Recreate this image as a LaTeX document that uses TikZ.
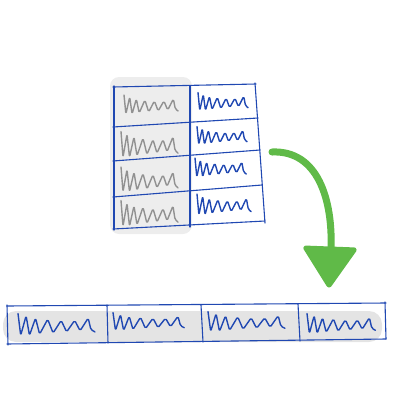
\documentclass[tikz,border=0pt]{standalone}
\usetikzlibrary{calc}
\definecolor{penblue}{RGB}{32,72,178}
\definecolor{pengray}{RGB}{145,145,145}
\definecolor{bggray}{RGB}{237,237,237}
\definecolor{stripgray}{RGB}{228,228,228}
\definecolor{arrowgreen}{RGB}{96,186,72}
\tikzset{
  grid line/.style={draw=penblue, line width=1.1pt, line cap=round, line join=round},
  scrib/.pic={
    \draw[line width=1.4pt, rounded corners=1.6pt, line cap=round, line join=round]
      (0,-10) -- (2,9) -- (6,-8) -- (8.5,9) -- (13,-6) -- (16,8) -- (22,-5) -- (26,7)
      -- (32,-4) -- (36,6) -- (42,-4) -- (46,5) -- (52,-6) -- (54,4) -- (57,6);
  },
}
\begin{document}
\begin{tikzpicture}[x=1pt,y=-1pt]
\useasboundingbox (0,0) rectangle (400,400);
% backgrounds
\fill[bggray, rounded corners=9pt] (110,77) rectangle (192,234);
\fill[stripgray, rounded corners=13pt] (3,311) rectangle (382,342);
% top table
\draw[grid line] (113,87) -- (256,84);
\draw[grid line] (113,127) -- (258,118);
\draw[grid line] (113,161) -- (260,150);
\draw[grid line] (113,197) -- (262,185);
\draw[grid line] (113,229) -- (265,221);
\draw[grid line] (114,86) -- (114,230);
\draw[grid line] (190,86) -- (190,227);
\draw[grid line] (255,83) -- (265,223);
% top table scribbles
\pic[pengray, xscale=0.95, yscale=1.0] at (124,105) {scrib};
\pic[pengray, xscale=1.0, yscale=1.35] at (121,145) {scrib};
\pic[pengray, xscale=1.0, yscale=1.3] at (121,180) {scrib};
\pic[pengray, xscale=1.0, yscale=1.35] at (121,214) {scrib};
\pic[penblue, xscale=0.88, yscale=0.95] at (198,102) {scrib};
\pic[penblue, xscale=0.88, yscale=0.95] at (197,136) {scrib};
\pic[penblue, xscale=0.9, yscale=1.0] at (195,168) {scrib};
\pic[penblue, xscale=0.95, yscale=1.1] at (197,205) {scrib};
% bottom strip
\draw[grid line] (7,306) -- (386,303);
\draw[grid line] (7,344) -- (386,339);
\draw[grid line] (7,305) -- (8,345);
\draw[grid line] (107,305) -- (108,343);
\draw[grid line] (201,305) -- (203,342);
\draw[grid line] (298,304) -- (300,341);
\draw[grid line] (385,302) -- (386,339);
\pic[penblue, xscale=1.35, yscale=1.15] at (18,325) {scrib};
\pic[penblue, xscale=1.25, yscale=0.95] at (113,322) {scrib};
\pic[penblue, xscale=1.35, yscale=1.05] at (208,322) {scrib};
\pic[penblue, xscale=1.2, yscale=1.05] at (307,324) {scrib};
% arrow
\coordinate (astart) at (272,152);
\coordinate (aend) at (331,250);
\draw[arrowgreen, line width=7pt, line cap=round]
  (astart) .. controls (318,150) and (333,200) .. (aend);
\fill[arrowgreen, draw=arrowgreen, line width=3pt, line join=round, rounded corners=2pt]
  (304,247) -- (356,249) -- (329,287) -- cycle;
\end{tikzpicture}
\end{document}
